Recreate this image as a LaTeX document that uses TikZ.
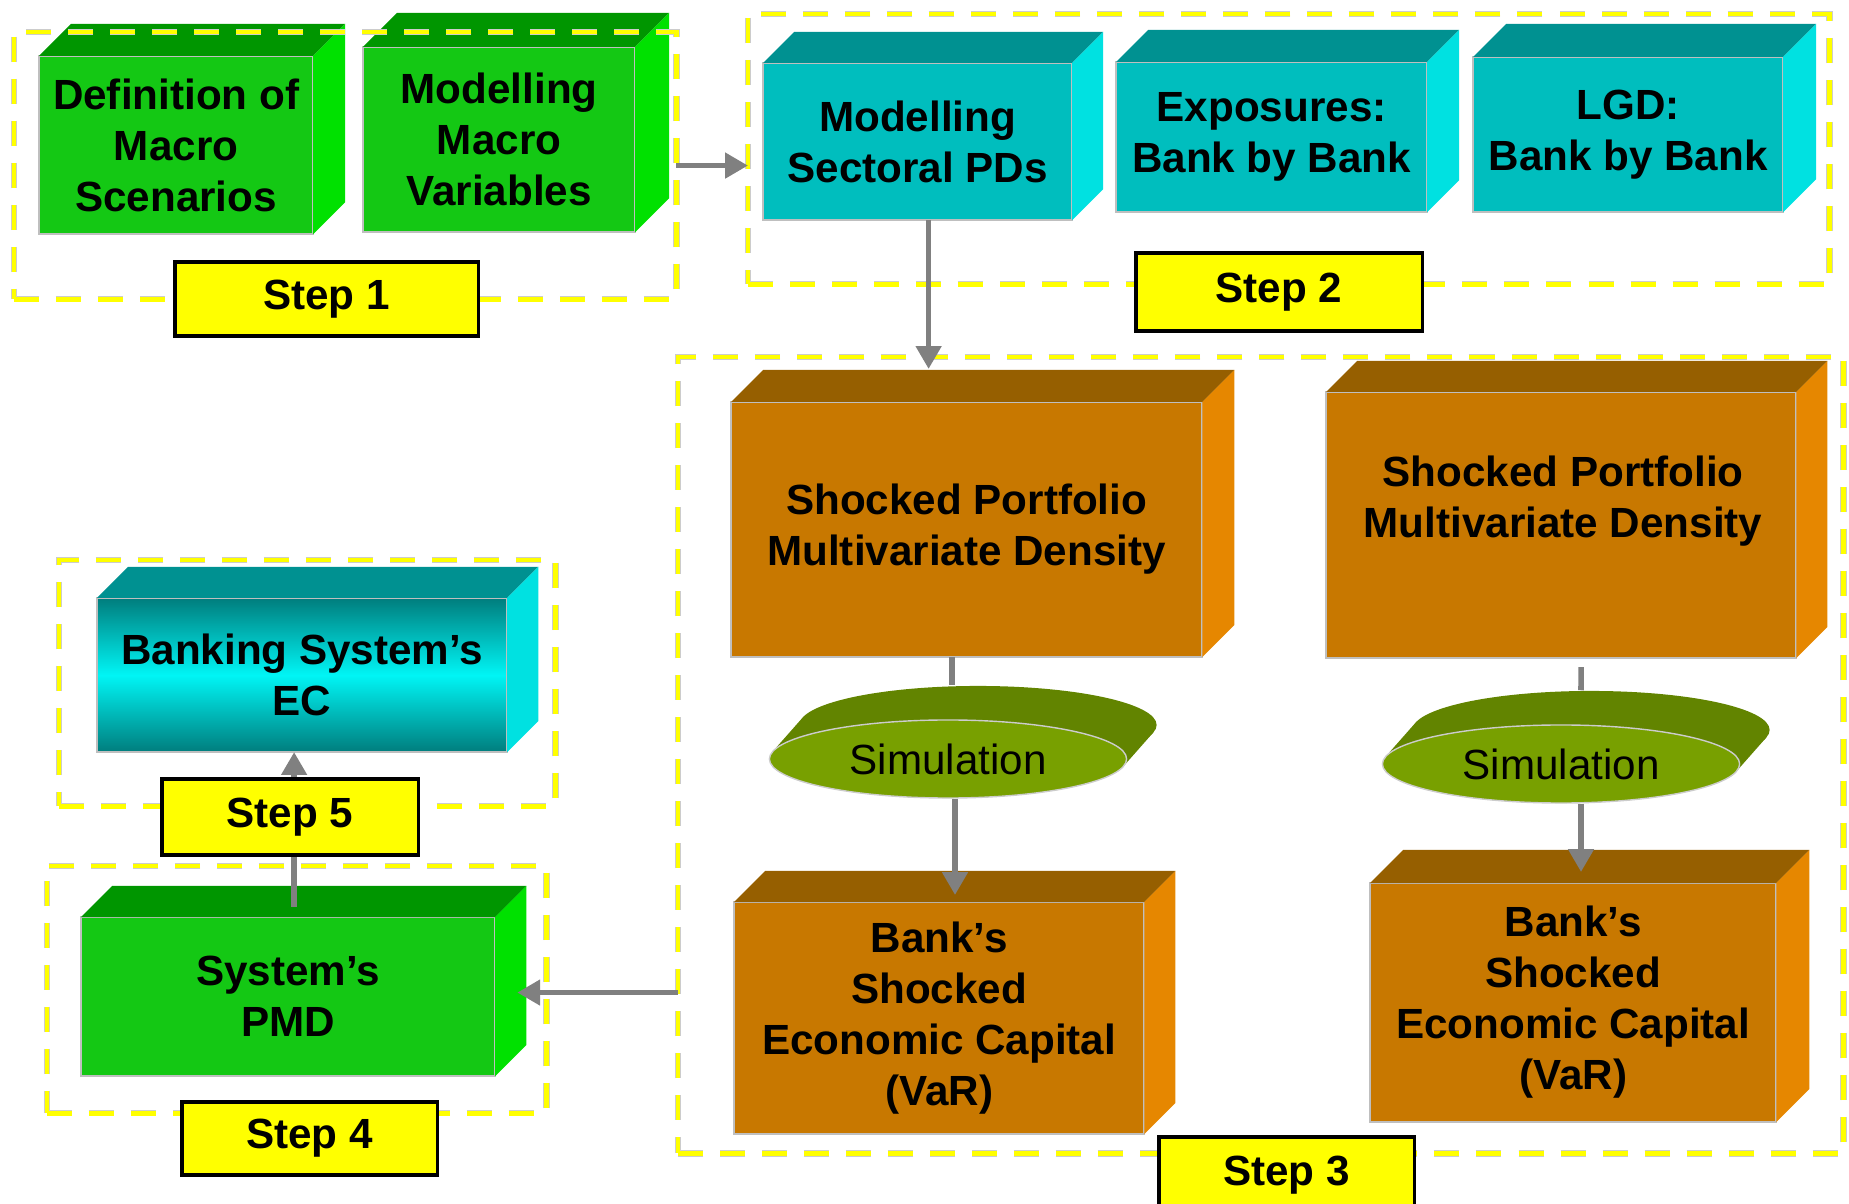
\documentclass[tikz,border=0pt]{standalone}
\usepackage{fontspec}
\setmainfont{Liberation Sans}
\usetikzlibrary{calc,arrows.meta,shapes.geometric}

\definecolor{grnfront}{RGB}{20,200,20}
\definecolor{grntop}{RGB}{0,150,0}
\definecolor{grnside}{RGB}{0,225,0}
\definecolor{tealfront}{RGB}{0,190,190}
\definecolor{tealtop}{RGB}{0,145,145}
\definecolor{tealside}{RGB}{0,225,225}
\definecolor{orgfront}{RGB}{200,120,0}
\definecolor{orgtop}{RGB}{150,95,0}
\definecolor{orgside}{RGB}{230,135,0}
\definecolor{simfront}{RGB}{120,160,0}
\definecolor{simback}{RGB}{98,132,0}
\definecolor{ecdark}{RGB}{0,125,125}
\definecolor{eclight}{RGB}{0,245,245}
\definecolor{conngray}{RGB}{128,128,128}
\definecolor{stepyellow}{RGB}{255,255,0}

% top and right faces of a block: node, depth, top colour, side colour
\newcommand{\blockfaces}[4]{%
  \fill[#3] (#1.north west) -- ++(#2,#2) -- ($(#1.north east)+(#2,#2)$) -- (#1.north east) -- cycle;
  \fill[#4] (#1.north east) -- ++(#2,#2) -- ($(#1.south east)+(#2,#2)$) -- (#1.south east) -- cycle;
}
% dark back part of a simulation disc
\newcommand{\discback}[1]{%
  \fill[simback] ($(#1)+(0.30cm,0.34cm)$) ellipse [x radius=1.785cm, y radius=0.39cm];
  \fill[simback] ($(#1)+(-10.9:1.785cm and 0.39cm)$) -- ($(#1)+(0.30cm,0.34cm)+(-10.9:1.785cm and 0.39cm)$)
    -- ($(#1)+(0.30cm,0.34cm)+(169.1:1.785cm and 0.39cm)$) -- ($(#1)+(169.1:1.785cm and 0.39cm)$) -- cycle;
}

\begin{document}
\begin{tikzpicture}[x=0.01cm, y=-0.01cm,
  block/.style={fill=#1, draw=black!25, line width=0.5pt, anchor=north west, inner sep=0pt, outer sep=0pt,
    align=center, font=\fontsize{12}{14.5}\selectfont\bfseries},
  blocktext/.style={align=center, font=\fontsize{12}{14.5}\selectfont\bfseries},
  stepframe/.style={draw=stepyellow, line width=1.4pt, dash pattern=on 0.25cm off 0.17cm, anchor=north west,
    inner sep=0pt, outer sep=0pt, preaction={draw=black!20, line width=1.9pt, dash pattern=on 0.25cm off 0.17cm}},
  stepbox/.style={draw=black, line width=0.9pt, fill=stepyellow, anchor=north west, inner sep=0pt, outer sep=0pt,
    font=\fontsize{12}{14.5}\selectfont\bfseries},
  disc/.style={ellipse, fill=simfront, draw=black!20, line width=0.4pt, minimum width=3.57cm, minimum height=0.78cm,
    inner sep=0pt, font=\fontsize{12}{14.5}\selectfont},
  conn/.style={draw=conngray, line width=1.6pt, -{Triangle[width=7pt,length=6.5pt]}},
  link/.style={draw=conngray, line width=1.6pt}]
  \useasboundingbox (0,0) rectangle (1849,1204);

  % step 1: scenarios
  \node[block=grnfront, minimum width=2.74cm, minimum height=1.78cm] (def) at (39,56) {Definition of\\Macro\\Scenarios};
  \blockfaces{def}{0.32cm}{grntop}{grnside}
  \node[block=grnfront, minimum width=2.72cm, minimum height=1.85cm] (mmv) at (363,47) {Modelling\\Macro\\Variables};
  \blockfaces{mmv}{0.34cm}{grntop}{grnside}

  % step 2: risk parameters
  \node[block=tealfront, minimum width=3.09cm, minimum height=1.57cm] (pds) at (763,63) {Modelling\\Sectoral PDs};
  \blockfaces{pds}{0.31cm}{tealtop}{tealside}
  \node[block=tealfront, minimum width=3.11cm, minimum height=1.50cm] (exp) at (1116,62) {Exposures:\\Bank by Bank};
  \blockfaces{exp}{0.32cm}{tealtop}{tealside}
  \node[block=tealfront, minimum width=3.10cm, minimum height=1.55cm] (lgd) at (1473,57) {LGD:\\Bank by Bank};
  \blockfaces{lgd}{0.33cm}{tealtop}{tealside}

  % step 3: shocked densities and capital
  \node[block=orgfront, minimum width=4.71cm, minimum height=2.55cm] (sp1) at (731,402) {Shocked Portfolio\\Multivariate Density};
  \blockfaces{sp1}{0.32cm}{orgtop}{orgside}
  \node[block=orgfront, minimum width=4.70cm, minimum height=2.66cm] (sp2) at (1326,392) {};
  \blockfaces{sp2}{0.31cm}{orgtop}{orgside}
  \node[blocktext] (sp2text) at (1563,501) {Shocked Portfolio\\Multivariate Density};
  \node[block=orgfront, minimum width=4.10cm, minimum height=2.32cm] (bank1) at (734,902) {Bank’s\\Shocked\\Economic Capital\\(VaR)};
  \blockfaces{bank1}{0.31cm}{orgtop}{orgside}
  \node[block=orgfront, minimum width=4.06cm, minimum height=2.39cm] (bank2) at (1370,883) {Bank’s\\Shocked\\Economic Capital\\(VaR)};
  \blockfaces{bank2}{0.33cm}{orgtop}{orgside}

  \coordinate (disc1) at (948,759);
  \discback{disc1}
  \node[disc] (sim1) at (disc1) {Simulation};
  \coordinate (disc2) at (1561,764);
  \discback{disc2}
  \node[disc] (sim2) at (disc2) {Simulation};

  % steps 4 and 5: system level
  \node[block=grnfront, minimum width=4.14cm, minimum height=1.59cm] (pmd) at (81,917) {System’s\\PMD};
  \blockfaces{pmd}{0.31cm}{grntop}{grnside}
  \node[block=ecdark, top color=ecdark, bottom color=ecdark, middle color=eclight,
    minimum width=4.10cm, minimum height=1.54cm] (ec) at (97,598) {Banking System’s\\EC};
  \blockfaces{ec}{0.31cm}{tealtop}{tealside}

  % dashed frames
  \node[stepframe, minimum width=6.62cm, minimum height=2.67cm] (frame1) at (14,32) {};
  \node[stepframe, minimum width=10.81cm, minimum height=2.70cm] (frame2) at (748,14) {};
  \node[stepframe, minimum width=11.65cm, minimum height=7.96cm] (frame3) at (678,357) {};
  \node[stepframe, minimum width=4.99cm, minimum height=2.47cm] (frame4) at (47,866) {};
  \node[stepframe, minimum width=4.96cm, minimum height=2.46cm] (frame5) at (59,560) {};

  \draw[conn] (frame1.east) -- (frame1.east -| frame2.west);
  \draw[conn] ($(pds.south)+(0.11cm,0)$) -- ($(pds.south |- sp1.north)+(0.11cm,0.33cm)$);
  \draw[link] ($(sp1.south -| sim1.north)+(0.04cm,0)$) -- ($(sim1.north)+(0.04cm,0.34cm)$);
  \draw[conn] ($(sim1.south)+(0.07cm,0)$) -- ($(sim1.south |- bank1.north)+(0.07cm,0.07cm)$);
  \draw[link] ($(sp2.south)+(0.2cm,-0.09cm)$) -- ($(sim2.north)+(0.2cm,0.34cm)$);
  \draw[conn] ($(sim2.south)+(0.2cm,0)$) -- ($(sim2.south |- bank2.north)+(0.2cm,0.11cm)$);
  \draw[conn] ($(frame3.west |- pmd.east)+(0,0.04cm)$) -- ($(pmd.east)+(0.22cm,0.04cm)$);
  \draw[conn] ($(pmd.north)+(0.06cm,0.10cm)$) -- ($(pmd.north |- ec.south)+(0.06cm,0)$);

  % step labels
  \node[stepbox, minimum width=3.03cm, minimum height=0.74cm] (step1) at (175,262) {Step 1};
  \node[stepbox, minimum width=2.86cm, minimum height=0.78cm] (step2) at (1136,253) {Step 2};
  \node[stepbox, minimum width=2.55cm, minimum height=0.76cm] (step3) at (1159,1137) {Step 3};
  \node[stepbox, minimum width=2.55cm, minimum height=0.73cm] (step4) at (182,1102) {Step 4};
  \node[stepbox, minimum width=2.56cm, minimum height=0.76cm] (step5) at (162,779) {Step 5};
\end{tikzpicture}
\end{document}
